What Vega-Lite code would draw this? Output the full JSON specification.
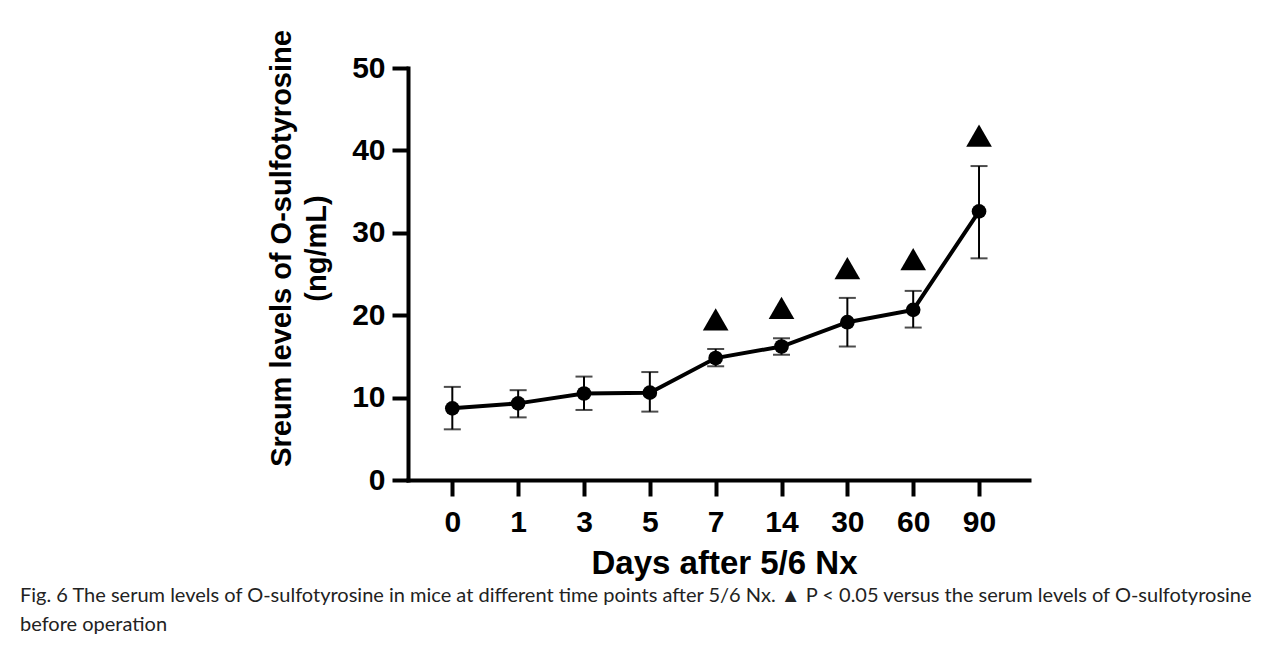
{
  "$schema": "https://vega.github.io/schema/vega-lite/v6.json",
  "autosize": "none",
  "width": 621,
  "height": 412,
  "padding": {"left": 408, "top": 68, "right": 252, "bottom": 173},
  "background": "white",
  "data": {
    "values": [
      {"day": "0", "mean": 8.7, "lo": 6.15, "hi": 11.3, "sig": null},
      {"day": "1", "mean": 9.3, "lo": 7.6, "hi": 10.9, "sig": null},
      {"day": "3", "mean": 10.5, "lo": 8.5, "hi": 12.55, "sig": null},
      {"day": "5", "mean": 10.6, "lo": 8.3, "hi": 13.1, "sig": null},
      {"day": "7", "mean": 14.8, "lo": 13.8, "hi": 15.9, "sig": 19.5},
      {"day": "14", "mean": 16.2, "lo": 15.2, "hi": 17.2, "sig": 20.9},
      {"day": "30", "mean": 19.15, "lo": 16.2, "hi": 22.1, "sig": 25.7},
      {"day": "60", "mean": 20.65, "lo": 18.5, "hi": 22.95, "sig": 26.8},
      {"day": "90", "mean": 32.6, "lo": 26.9, "hi": 38.1, "sig": 41.8}
    ]
  },
  "title": {
    "text": ["Fig. 6 The serum levels of O-sulfotyrosine in mice at different time points after 5/6 Nx. ▲ P < 0.05 versus the serum levels of O-sulfotyrosine", "before operation"],
    "orient": "bottom",
    "anchor": "start",
    "frame": "group",
    "dx": -388,
    "offset": 6,
    "font": "Lato",
    "fontSize": 20,
    "fontWeight": "normal",
    "lineHeight": 29,
    "color": "#222222"
  },
  "encoding": {
    "x": {
      "field": "day",
      "type": "ordinal",
      "sort": ["0", "1", "3", "5", "7", "14", "30", "60", "90"],
      "scale": {"type": "point", "padding": 0.716, "align": 0.47},
      "axis": {
        "title": "Days after 5/6 Nx",
        "labelAngle": 0,
        "titleFontSize": 33,
        "titlePadding": 10,
        "titleX": 316
      }
    }
  },
  "layer": [
    {
      "mark": {"type": "rule", "strokeWidth": 2, "color": "black"},
      "encoding": {
        "y": {"field": "lo", "type": "quantitative"},
        "y2": {"field": "hi"}
      }
    },
    {
      "mark": {"type": "tick", "size": 17, "thickness": 2, "color": "black"},
      "encoding": {"y": {"field": "lo", "type": "quantitative"}}
    },
    {
      "mark": {"type": "tick", "size": 17, "thickness": 2, "color": "black"},
      "encoding": {"y": {"field": "hi", "type": "quantitative"}}
    },
    {
      "mark": {"type": "line", "strokeWidth": 4, "color": "black"},
      "encoding": {"y": {"field": "mean", "type": "quantitative"}}
    },
    {
      "mark": {"type": "point", "shape": "circle", "filled": true, "size": 215, "color": "black", "opacity": 1},
      "encoding": {
        "y": {
          "field": "mean",
          "type": "quantitative",
          "scale": {"domain": [0, 50], "nice": false},
          "axis": {
            "values": [0, 10, 20, 30, 40, 50],
            "title": ["Sreum levels of O-sulfotyrosine", "(ng/mL)"],
            "titleFontSize": 29,
            "titleLineHeight": 35,
            "titlePadding": 20,
            "titleY": 180,
            "labelPadding": 7
          }
        }
      }
    },
    {
      "mark": {"type": "point", "shape": "triangle-up", "filled": true, "size": 660, "color": "black", "opacity": 1},
      "encoding": {"y": {"field": "sig", "type": "quantitative"}}
    }
  ],
  "config": {
    "view": {"stroke": null},
    "axis": {
      "grid": false,
      "domainColor": "black",
      "domainWidth": 4,
      "domainCap": "square",
      "tickColor": "black",
      "tickWidth": 4,
      "tickSize": 16,
      "labelFont": "Liberation Sans",
      "labelFontWeight": "bold",
      "labelFontSize": 30,
      "labelColor": "black",
      "titleFont": "Liberation Sans",
      "titleFontWeight": "bold",
      "titleColor": "black"
    },
    "axisX": {"labelPadding": 11},
    "axisY": {"labelPadding": 7}
  }
}
